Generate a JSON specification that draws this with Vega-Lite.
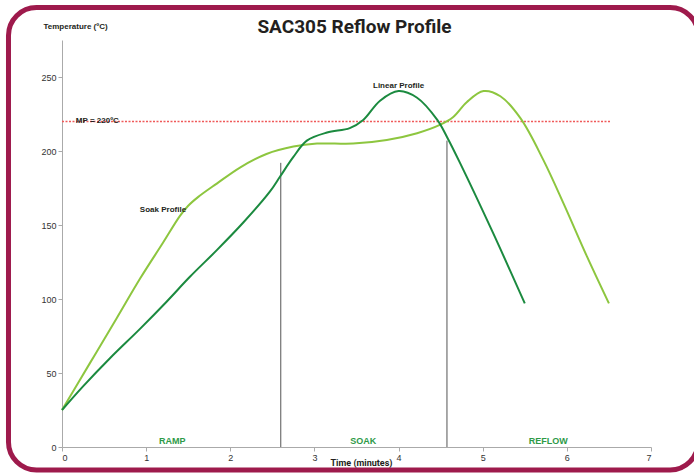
{
  "$schema": "https://vega.github.io/schema/vega-lite/v6.json",
  "width": 589,
  "height": 407,
  "autosize": {"type": "none"},
  "padding": {"left": 62, "top": 40, "right": 43, "bottom": 27},
  "background": "white",
  "config": {"view": {"stroke": null}, "font": "Liberation Sans"},
  "title": {
    "text": "SAC305 Reflow Profile",
    "font": "Roboto",
    "fontSize": 19,
    "fontWeight": "bold",
    "color": "#231f20",
    "anchor": "middle",
    "offset": -32,
    "dx": -2
  },
  "datasets": {
    "curves": [
      {"series": "Soak Profile", "t": 0, "T": 25},
      {"series": "Soak Profile", "t": 0.33, "T": 56.5},
      {"series": "Soak Profile", "t": 0.65, "T": 87},
      {"series": "Soak Profile", "t": 0.93, "T": 114},
      {"series": "Soak Profile", "t": 1.2, "T": 138},
      {"series": "Soak Profile", "t": 1.4, "T": 156},
      {"series": "Soak Profile", "t": 1.5, "T": 163},
      {"series": "Soak Profile", "t": 1.62, "T": 169},
      {"series": "Soak Profile", "t": 1.84, "T": 178},
      {"series": "Soak Profile", "t": 2.12, "T": 189},
      {"series": "Soak Profile", "t": 2.43, "T": 198},
      {"series": "Soak Profile", "t": 2.75, "T": 203},
      {"series": "Soak Profile", "t": 3.03, "T": 205},
      {"series": "Soak Profile", "t": 3.46, "T": 205},
      {"series": "Soak Profile", "t": 3.86, "T": 207.4},
      {"series": "Soak Profile", "t": 4.22, "T": 212},
      {"series": "Soak Profile", "t": 4.49, "T": 217.6},
      {"series": "Soak Profile", "t": 4.65, "T": 223},
      {"series": "Soak Profile", "t": 4.81, "T": 233},
      {"series": "Soak Profile", "t": 5.01, "T": 240.5},
      {"series": "Soak Profile", "t": 5.21, "T": 237},
      {"series": "Soak Profile", "t": 5.45, "T": 222},
      {"series": "Soak Profile", "t": 5.72, "T": 194},
      {"series": "Soak Profile", "t": 5.96, "T": 164.6},
      {"series": "Soak Profile", "t": 6.24, "T": 128.6},
      {"series": "Soak Profile", "t": 6.5, "T": 97},
      {"series": "Linear Profile", "t": 0, "T": 25},
      {"series": "Linear Profile", "t": 0.25, "T": 41},
      {"series": "Linear Profile", "t": 0.57, "T": 60},
      {"series": "Linear Profile", "t": 0.93, "T": 80},
      {"series": "Linear Profile", "t": 1.24, "T": 98},
      {"series": "Linear Profile", "t": 1.52, "T": 115},
      {"series": "Linear Profile", "t": 1.84, "T": 133},
      {"series": "Linear Profile", "t": 2.16, "T": 152},
      {"series": "Linear Profile", "t": 2.47, "T": 172.5},
      {"series": "Linear Profile", "t": 2.59, "T": 182.6},
      {"series": "Linear Profile", "t": 2.75, "T": 196},
      {"series": "Linear Profile", "t": 2.91, "T": 207},
      {"series": "Linear Profile", "t": 3.15, "T": 212.5},
      {"series": "Linear Profile", "t": 3.42, "T": 215.5},
      {"series": "Linear Profile", "t": 3.58, "T": 221},
      {"series": "Linear Profile", "t": 3.78, "T": 234},
      {"series": "Linear Profile", "t": 4.0, "T": 240.5},
      {"series": "Linear Profile", "t": 4.22, "T": 236},
      {"series": "Linear Profile", "t": 4.46, "T": 221},
      {"series": "Linear Profile", "t": 4.58, "T": 209},
      {"series": "Linear Profile", "t": 4.73, "T": 192},
      {"series": "Linear Profile", "t": 5.12, "T": 145},
      {"series": "Linear Profile", "t": 5.5, "T": 97}
    ],
    "frame": [{"x": -0.636, "x2": 7.56, "y": 297, "y2": -15.5}],
    "mp": [{"x": 0, "x2": 6.52, "y": 220}],
    "dividers": [{"x": 2.6, "y": 0, "y2": 192}, {"x": 4.575, "y": 0, "y2": 207}],
    "notes": [
      {"label": "MP = 220ºC", "x": 0.42, "y": 220},
      {"label": "Soak Profile", "x": 1.2, "y": 160},
      {"label": "Linear Profile", "x": 4.0, "y": 244}
    ],
    "phases": [
      {"label": "RAMP", "x": 1.31, "y": 4},
      {"label": "SOAK", "x": 3.58, "y": 4},
      {"label": "REFLOW", "x": 5.78, "y": 4}
    ]
  },
  "layer": [
    {
      "data": {"name": "frame"},
      "mark": {"type": "rect", "fill": "white", "fillOpacity": 0, "stroke": "#9e1a4c", "strokeWidth": 5, "cornerRadius": 28, "clip": false},
      "encoding": {
        "x": {"field": "x", "type": "quantitative"},
        "x2": {"field": "x2"},
        "y": {"field": "y", "type": "quantitative"},
        "y2": {"field": "y2"}
      }
    },
    {
      "data": {"name": "mp"},
      "mark": {"type": "rule", "color": "#f05a5a", "strokeWidth": 1.5, "strokeDash": [2, 1.5]},
      "encoding": {
        "x": {"field": "x", "type": "quantitative"},
        "x2": {"field": "x2"},
        "y": {"field": "y", "type": "quantitative"}
      }
    },
    {
      "data": {"name": "dividers"},
      "mark": {"type": "rule", "color": "#555555", "strokeWidth": 1},
      "encoding": {
        "x": {"field": "x", "type": "quantitative"},
        "y": {"field": "y", "type": "quantitative"},
        "y2": {"field": "y2"}
      }
    },
    {
      "data": {"name": "curves"},
      "mark": {"type": "line", "interpolate": "catmull-rom", "strokeWidth": 2},
      "encoding": {
        "x": {
          "field": "t",
          "type": "quantitative",
          "scale": {"domain": [0, 7], "nice": false},
          "axis": {
            "values": [0, 1, 2, 3, 4, 5, 6, 7],
            "format": "d",
            "grid": false,
            "domainColor": "#aaaaaa",
            "tickColor": "#aaaaaa",
            "tickSize": 4,
            "labelFontSize": 9,
            "labelColor": "#333333",
            "labelPadding": 2,
            "title": "Time (minutes)",
            "titleFont": "Roboto",
            "titleFontSize": 9,
            "titleFontWeight": "bold",
            "titleColor": "#231f20",
            "titleX": 299,
            "titleY": 15,
            "titleBaseline": "middle",
            "titleAlign": "center"
          }
        },
        "y": {
          "field": "T",
          "type": "quantitative",
          "scale": {"domain": [0, 275], "nice": false},
          "axis": {
            "values": [0, 50, 100, 150, 200, 250],
            "format": "d",
            "grid": false,
            "domainColor": "#aaaaaa",
            "tickColor": "#aaaaaa",
            "tickSize": 4,
            "labelFontSize": 9,
            "labelColor": "#333333",
            "labelPadding": 2,
            "title": "Temperature (ºC)",
            "titleFontSize": 8,
            "titleFontWeight": "bold",
            "titleColor": "#231f20",
            "titleAngle": 0,
            "titleAlign": "left",
            "titleBaseline": "middle",
            "titleX": -19,
            "titleY": -14
          }
        },
        "color": {
          "field": "series",
          "type": "nominal",
          "scale": {"domain": ["Soak Profile", "Linear Profile"], "range": ["#8dc63f", "#1b8a3f"]},
          "legend": null
        }
      }
    },
    {
      "data": {"name": "notes"},
      "mark": {"type": "text", "align": "center", "baseline": "middle", "fontSize": 8, "fontWeight": "bold", "color": "#231f20"},
      "encoding": {
        "x": {"field": "x", "type": "quantitative"},
        "y": {"field": "y", "type": "quantitative"},
        "text": {"field": "label"}
      }
    },
    {
      "data": {"name": "phases"},
      "mark": {"type": "text", "align": "center", "baseline": "middle", "fontSize": 9, "fontWeight": "bold", "color": "#2e9a48"},
      "encoding": {
        "x": {"field": "x", "type": "quantitative"},
        "y": {"field": "y", "type": "quantitative"},
        "text": {"field": "label"}
      }
    }
  ]
}
